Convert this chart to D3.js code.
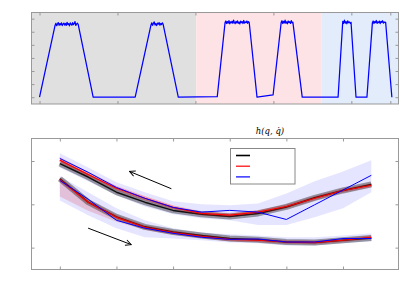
<!DOCTYPE html>
<html>
<head>
<meta charset="utf-8">
<script src="https://d3js.org/d3.v7.min.js"></script>
<style>
  body { margin: 0; background: #fff; }
  svg { display: block; }
</style>
</head>
<body>
<script>
// top panel: six pulses of the measured trace
var riseStart = [0, 12.27, 22.8, 29.96, 38.3, 42.0],
    riseStartV = [0, 0, 0.04, 0.17, 0, 0],
    topStart = [2.0, 14.3, 23.8, 31.0, 38.9, 42.7],
    topEnd = [4.96, 15.86, 26.9, 32.5, 39.96, 44.4],
    fallEnd = [6.88, 17.8, 27.9, 33.7, 40.6, 45.2];
// noisy plateau samples of each pulse
var plateau1 = [5.50, 5.64, 5.46, 5.60, 5.70, 5.49, 5.62, 5.53, 5.68, 5.47, 5.59, 5.66, 5.51, 5.63, 5.48,
                5.72, 5.55, 5.61, 5.45, 5.67, 5.58, 5.50, 5.69, 5.54, 5.62, 5.78, 5.49, 5.60, 5.65, 5.56],
    plateau2 = [5.52, 5.68, 5.49, 5.64, 5.75, 5.51, 5.62, 5.47, 5.66, 5.58, 5.70, 5.50, 5.63, 5.55, 5.68, 5.57],
    plateau3 = [5.70, 5.82, 5.63, 5.78, 5.66, 5.85, 5.61, 5.76, 5.68, 5.80, 5.64, 5.88, 5.70, 5.62, 5.79, 5.67,
                5.83, 5.65, 5.74, 5.60, 5.81, 5.69, 5.77, 5.63, 5.86, 5.66, 5.75, 5.70, 5.82, 5.64, 5.78, 5.71],
    plateau4 = [5.72, 5.84, 5.63, 5.79, 5.67, 5.88, 5.65, 5.76, 5.61, 5.82, 5.70, 5.77, 5.64, 5.85, 5.68, 5.73],
    plateau5 = [5.80, 5.64, 5.88, 5.66, 5.77, 5.61, 5.83, 5.69, 5.75, 5.65, 5.72],
    plateau6 = [5.68, 5.82, 5.63, 5.78, 5.70, 5.86, 5.64, 5.76, 5.69, 5.81, 5.62, 5.79, 5.72, 5.84, 5.66, 5.75, 5.70, 5.73];
var plateaus = [plateau1, plateau2, plateau3, plateau4, plateau5, plateau6];
// shaded phases of the top panel
var phaseStart = [-1.03, 20.1, 36.2],
    phaseEnd = [20.1, 36.2, 46.05],
    phaseColor = ["#e0e0e0", "#fde3e5", "#e2ecfa"];
var topXTicks = [0, 10, 20, 30, 40, 45],
    topYTicks = [0, 1, 2, 3, 4, 5, 6];

// bottom panel: h(q, qdot)
var xs = [1, 1.5, 2, 2.5, 3, 3.5, 4, 4.5, 5, 5.5, 6, 6.5];
var upperBlack = [29.4, 26.3, 22.8, 20.5, 18.6, 17.7, 17.2, 17.9, 19.4, 21.5, 23.2, 24.6],
    upperRed = [30.2, 26.9, 23.7, 21.4, 19.3, 17.9, 17.5, 18.2, 19.5, 21.4, 23.2, 24.4],
    upperBlue = [30.6, 27.4, 23.9, 21.4, 19.3, 18.2, 18.6, 18.2, 16.5, 19.9, 23.3, 26.7],
    upperBlueHi = [31.8, 28.5, 25.1, 22.8, 20.7, 20.0, 19.8, 20.2, 22.5, 25.3, 27.6, 30.2],
    upperBlueLo = [28.5, 25.3, 22.1, 19.5, 17.7, 16.8, 16.3, 15.2, 15.2, 17.0, 19.1, 22.8],
    upperRedHi = [30.9, 27.5, 24.3, 21.9, 19.8, 18.4, 18.0, 18.7, 20.0, 21.9, 23.7, 24.9],
    upperRedLo = [29.5, 26.3, 23.1, 20.9, 18.8, 17.4, 17.0, 17.7, 19.0, 20.9, 22.7, 23.9];
var lowerBlack = [25.9, 20.5, 17.1, 14.8, 13.6, 12.8, 12.1, 11.8, 11.3, 11.2, 11.7, 12.2],
    lowerRed = [25.7, 20.5, 17.0, 14.7, 13.5, 12.6, 11.9, 11.7, 11.3, 11.2, 11.7, 12.4],
    lowerBlue = [25.5, 21.2, 16.3, 14.5, 13.3, 12.4, 11.9, 12.0, 11.3, 11.3, 12.1, 12.1],
    lowerBlueHi = [26.5, 22.8, 19.1, 16.3, 14.5, 13.5, 13.1, 12.8, 12.4, 12.4, 12.8, 13.3],
    lowerBlueLo = [20.9, 17.5, 14.5, 12.4, 12.1, 11.7, 11.2, 11.0, 10.5, 10.5, 11.0, 11.5],
    lowerRedHi = [26.3, 21.2, 17.6, 15.2, 14.0, 13.0, 12.3, 12.1, 11.7, 11.6, 12.1, 12.8],
    lowerRedLo = [21.8, 18.5, 16.0, 14.1, 13.0, 12.2, 11.5, 11.3, 10.9, 10.8, 11.3, 12.0];
var botXTicks = [1, 2, 3, 4, 5, 6],
    botYTicks = [10, 20, 30];
// direction arrows [x0, y0, x1, y1]
var arrows = [[2.97, 23.6, 2.23, 27.6], [1.5, 14.5, 2.26, 10.7]];

var width = 399, height = 291;
var svg = d3.select("body").append("svg")
    .attr("width", width)
    .attr("height", height);

var frameColor = "#999";

// draw inward ticks on all four sides of a panel
function drawFrame(g, x, y, xt, yt, box) {
    g.append("g").attr("transform", "translate(0," + box.bottom + ")")
        .call(d3.axisBottom(x).tickValues(xt).tickSize(-3).tickFormat(""));
    g.append("g").attr("transform", "translate(0," + box.top + ")")
        .call(d3.axisTop(x).tickValues(xt).tickSize(-3).tickFormat(""));
    g.append("g").attr("transform", "translate(" + box.left + ",0)")
        .call(d3.axisLeft(y).tickValues(yt).tickSize(-3).tickFormat(""));
    g.append("g").attr("transform", "translate(" + box.right + ",0)")
        .call(d3.axisRight(y).tickValues(yt).tickSize(-3).tickFormat(""));
    g.selectAll(".domain").remove();
    g.selectAll(".tick line").attr("stroke", frameColor);
    g.append("rect")
        .attr("x", box.left).attr("y", box.top)
        .attr("width", box.right - box.left).attr("height", box.bottom - box.top)
        .attr("fill", "none").attr("stroke", frameColor);
}

// ---------- top panel ----------
var tb = {left: 31.5, right: 398.5, top: 12.5, bottom: 104};
var xT = d3.scaleLinear().domain([-1.03, 46.05]).range([tb.left, tb.right]);
var yT = d3.scaleLinear().domain([-0.52, 6.47]).range([tb.bottom, tb.top]);

var gT = svg.append("g");
gT.selectAll("rect.phase")
    .data(phaseStart).enter()
    .append("rect")
    .attr("class", "phase")
    .attr("x", function(d) { return xT(d); })
    .attr("y", tb.top)
    .attr("width", function(d, i) { return xT(phaseEnd[i]) - xT(d); })
    .attr("height", tb.bottom - tb.top)
    .attr("fill", function(d, i) { return phaseColor[i]; });

// put the trace together pulse by pulse
var trace = [];
riseStart.forEach(function(t0, i) {
    trace.push([t0, riseStartV[i]]);
    var p = plateaus[i], step = (topEnd[i] - topStart[i]) / (p.length - 1);
    p.forEach(function(v, j) { trace.push([topStart[i] + j * step, v]); });
    trace.push([fallEnd[i], 0]);
});

gT.append("path")
    .datum(trace)
    .attr("d", d3.line()
        .x(function(d) { return xT(d[0]); })
        .y(function(d) { return yT(d[1]); }))
    .attr("fill", "none")
    .attr("stroke", "#0000ff")
    .attr("stroke-width", 1.25)
    .attr("stroke-linejoin", "round");

drawFrame(gT, xT, yT, topXTicks, topYTicks, tb);

// ---------- bottom panel ----------
var bb = {left: 31.5, right: 398.5, top: 138.5, bottom: 269.5};
var xB = d3.scaleLinear().domain([0.5, 6.98]).range([bb.left, bb.right]);
var yB = d3.scaleLinear().domain([4.95, 35.2]).range([bb.bottom, bb.top]);

var gB = svg.append("g");

function band(hi, lo, color, op) {
    var area = d3.area()
        .x(function(d) { return xB(xs[d]); })
        .y0(function(d) { return yB(lo[d]); })
        .y1(function(d) { return yB(hi[d]); });
    gB.append("path")
        .datum(d3.range(xs.length))
        .attr("d", area)
        .attr("fill", color)
        .attr("fill-opacity", op);
}

function curve(vals, color, w, op) {
    var line = d3.line()
        .x(function(d) { return xB(xs[d]); })
        .y(function(d) { return yB(vals[d]); });
    gB.append("path")
        .datum(d3.range(xs.length))
        .attr("d", line)
        .attr("fill", "none")
        .attr("stroke", color)
        .attr("stroke-width", w)
        .attr("stroke-opacity", op)
        .attr("stroke-linejoin", "round");
}

band(upperBlueHi, upperBlueLo, "#3333ff", 0.13);
band(lowerBlueHi, lowerBlueLo, "#3333ff", 0.13);
band(upperRedHi, upperRedLo, "#ff3030", 0.18);
band(lowerRedHi, lowerRedLo, "#e04050", 0.22);

// black with grey halo, then red, then blue
[upperBlack, lowerBlack].forEach(function(c) {
    curve(c, "#000", 6, 0.36);
    curve(c, "#111", 1.5, 1);
});
[upperRed, lowerRed].forEach(function(c) {
    curve(c, "#ff2020", 3.5, 0.2);
    curve(c, "#ff0000", 1.2, 1);
});
[upperBlue, lowerBlue].forEach(function(c) {
    curve(c, "#0000ff", 1, 1);
});

// arrows
svg.append("defs").append("marker")
    .attr("id", "head")
    .attr("viewBox", "0 0 10 10")
    .attr("refX", 9).attr("refY", 5)
    .attr("markerWidth", 7).attr("markerHeight", 7)
    .attr("markerUnits", "userSpaceOnUse")
    .attr("orient", "auto")
    .append("path")
    .attr("d", "M1,1 L9,5 L1,9")
    .attr("fill", "none")
    .attr("stroke", "#000")
    .attr("stroke-width", 1.3);

gB.selectAll("line.arrow")
    .data(arrows).enter()
    .append("line")
    .attr("class", "arrow")
    .attr("x1", function(d) { return xB(d[0]); })
    .attr("y1", function(d) { return yB(d[1]); })
    .attr("x2", function(d) { return xB(d[2]); })
    .attr("y2", function(d) { return yB(d[3]); })
    .attr("stroke", "#000")
    .attr("stroke-width", 1)
    .attr("marker-end", "url(#head)");

// legend (entries without labels)
var legColors = ["#000", "#ff0000", "#0000ff"];
var leg = gB.append("g");
leg.append("rect")
    .attr("x", 230.5).attr("y", 148.5)
    .attr("width", 64.5).attr("height", 35.5)
    .attr("fill", "#fff")
    .attr("stroke", "#888");
leg.selectAll("line")
    .data(legColors).enter()
    .append("line")
    .attr("x1", 236).attr("x2", 250)
    .attr("y1", function(d, i) { return 155.5 + i * 10.7; })
    .attr("y2", function(d, i) { return 155.5 + i * 10.7; })
    .attr("stroke", function(d) { return d; })
    .attr("stroke-width", function(d, i) { return i == 0 ? 1.6 : 1.2; });

drawFrame(gB, xB, yB, botXTicks, botYTicks, bb);

// title
svg.append("text")
    .attr("x", 270)
    .attr("y", 134)
    .attr("text-anchor", "middle")
    .style("font-family", "'DejaVu Serif', serif")
    .style("font-style", "italic")
    .style("font-size", "8.5px")
    .text("h(q, q\u0307)");
</script>
</body>
</html>
